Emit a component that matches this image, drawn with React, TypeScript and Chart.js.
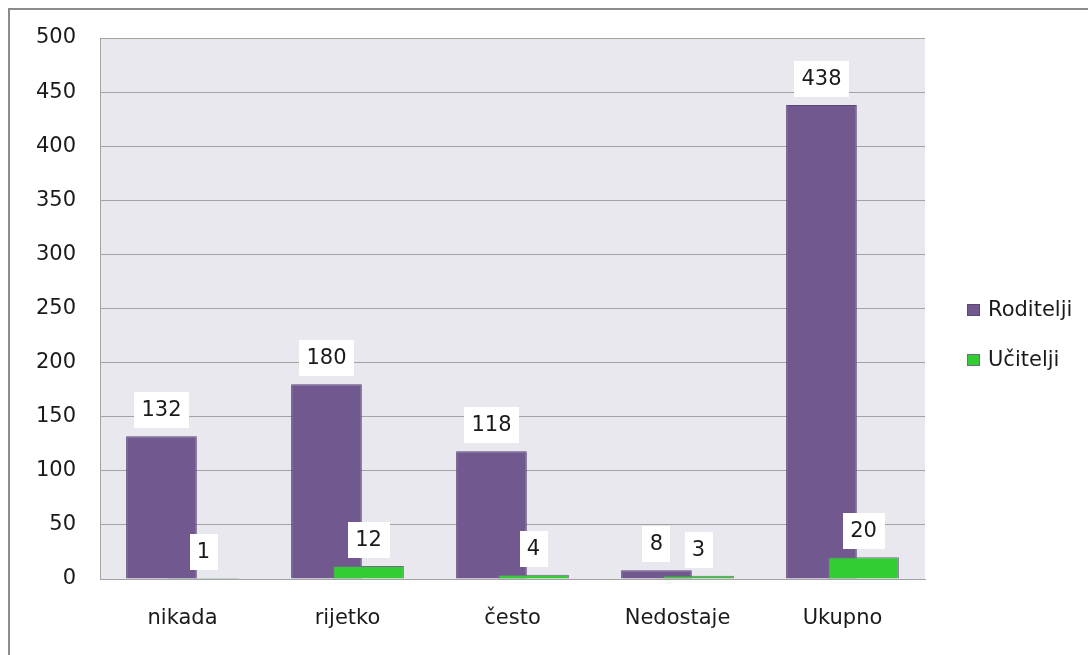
import React, { useEffect, useRef } from "react";
import { Chart, registerables } from "chart.js";

Chart.register(...registerables);

const categories = ["nikada", "rijetko", "često", "Nedostaje", "Ukupno"];
const seriesNames = ["Roditelji", "Učitelji"];
const roditelji = [132, 180, 118, 8, 438];
const ucitelji = [1, 12, 4, 3, 20];
const yMin = 0;
const yMax = 500;
const yStep = 50;

const FONT = '"DejaVu Sans", sans-serif';
const TEXT = "#1a1a1a";
const PURPLE = "#71598f";
const PURPLE_EDGE = "#5c4878";
const GREEN = "#33cc33";
const GREEN_EDGE = "#76688c";
const GRID = "#a3a3a3";
const PLOT_BG = "#eae8ef";

const plotBg = {
  id: "plotBg",
  beforeDraw(chart: any) {
    const { ctx, chartArea } = chart;
    ctx.save();
    ctx.fillStyle = PLOT_BG;
    ctx.fillRect(chartArea.left, chartArea.top, chartArea.right - chartArea.left, chartArea.bottom - chartArea.top);
    ctx.restore();
  },
};

// draw datasets in natural order so the second series sits over the first
const drawOrder = {
  id: "drawOrder",
  beforeDatasetsDraw(chart: any) {
    const { ctx, chartArea } = chart;
    ctx.save();
    ctx.beginPath();
    ctx.rect(chartArea.left, chartArea.top - 2, chartArea.right - chartArea.left, chartArea.bottom - chartArea.top + 2);
    ctx.clip();
    for (let i = 0; i < chart.data.datasets.length; i++) {
      const meta = chart.getDatasetMeta(i);
      if (!meta.hidden) meta.controller.draw();
    }
    ctx.restore();
    return false;
  },
};

const valueLabels = {
  id: "valueLabels",
  afterDraw(chart: any) {
    const ctx = chart.ctx;
    ctx.save();
    ctx.font = `21px ${FONT}`;
    ctx.textAlign = "center";
    ctx.textBaseline = "middle";
    chart.data.datasets.forEach((ds: any, di: number) => {
      const meta = chart.getDatasetMeta(di);
      meta.data.forEach((bar: any, i: number) => {
        const text = String(ds.data[i]);
        const w = Math.round(ctx.measureText(text).width + 15);
        const h = 36;
        const x = Math.round(bar.x - w / 2);
        const y = Math.round(bar.y - 8 - h);
        ctx.fillStyle = "#ffffff";
        ctx.fillRect(x, y, w, h);
        ctx.fillStyle = TEXT;
        ctx.fillText(text, bar.x, y + h / 2 + 1);
      });
    });
    // legend
    const items = chart.data.datasets.map((ds: any) => ({
      text: ds.label,
      fill: ds.backgroundColor,
      edge: ds.borderColor,
    }));
    const lx = chart.chartArea.right + 42;
    const ly0 = 300;
    const gap = 50;
    ctx.textAlign = "left";
    items.forEach((it: any, k: number) => {
      const cy = ly0 + k * gap;
      ctx.fillStyle = it.fill;
      ctx.fillRect(lx, cy - 6, 13, 12);
      ctx.strokeStyle = it.edge;
      ctx.lineWidth = 1;
      ctx.strokeRect(lx + 0.5, cy - 5.5, 12, 11);
      ctx.fillStyle = TEXT;
      ctx.fillText(it.text, lx + 21, cy + 1);
    });
    ctx.restore();
  },
};

function ChartView() {
  const ref = useRef<HTMLCanvasElement | null>(null);
  useEffect(() => {
    if (!ref.current) return;
    const chart = new Chart(ref.current, {
      type: "bar",
      data: {
        labels: categories,
        datasets: [
          {
            label: seriesNames[0],
            data: roditelji,
            backgroundColor: PURPLE,
            borderColor: PURPLE_EDGE,
            borderWidth: 1,
            categoryPercentage: 0.51,
            barPercentage: 1.68,
          },
          {
            label: seriesNames[1],
            data: ucitelji,
            backgroundColor: GREEN,
            borderColor: GREEN_EDGE,
            borderWidth: 1,
            categoryPercentage: 0.51,
            barPercentage: 1.68,
          },
        ],
      },
      options: {
        responsive: false,
        devicePixelRatio: 1,
        animation: false,
        layout: { padding: { top: 28, right: 163, left: 0, bottom: 0 } },
        plugins: {
          legend: { display: false },
          tooltip: { enabled: false },
          title: { display: false },
        },
        scales: {
          x: {
            grid: { display: false, drawTicks: false },
            border: { display: true, color: GRID, width: 1 },
            ticks: { color: TEXT, font: { family: FONT, size: 21 }, padding: 27, maxRotation: 0 },
            afterFit(scale: any) {
              scale.height = 76;
              scale.paddingLeft = 0;
              scale.paddingRight = 0;
            },
          },
          y: {
            min: yMin,
            max: yMax,
            grid: { color: GRID, lineWidth: 1, drawTicks: false },
            border: { display: true, color: GRID, width: 1 },
            ticks: { stepSize: yStep, color: TEXT, font: { family: FONT, size: 21 }, padding: 24 },
            afterFit(scale: any) {
              scale.width = 90;
              scale.paddingTop = 0;
              scale.paddingBottom = 0;
            },
          },
        },
      },
      plugins: [plotBg, drawOrder, valueLabels],
    } as any);
    return () => chart.destroy();
  }, []);
  return <canvas ref={ref} width={1078} height={645} style={{ display: "block", width: 1078, height: 645 }} />;
}

export default function App() {
  return (
    <div
      style={{
        position: "absolute",
        left: 8,
        top: 8,
        width: 1080,
        height: 647,
        boxSizing: "border-box",
        borderTop: "2px solid #8c8c8c",
        borderLeft: "2px solid #8c8c8c",
        overflow: "hidden",
        background: "#ffffff",
      }}
    >
      <ChartView />
    </div>
  );
}
